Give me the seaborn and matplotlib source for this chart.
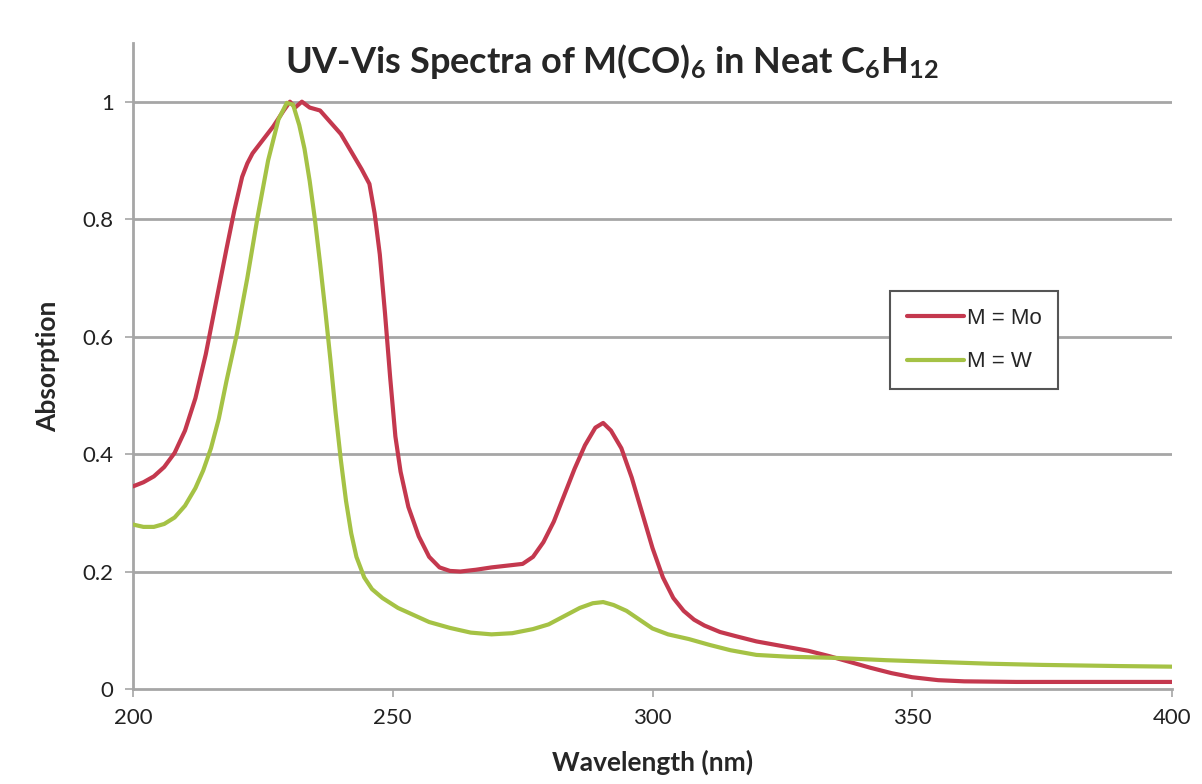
import matplotlib
matplotlib.use("Agg")
import matplotlib.pyplot as plt
import seaborn as sns
import pandas as pd

# ---- data ----
mo_wavelength = [200, 202, 204, 206, 208, 210, 212, 214, 216, 218, 219.5, 221, 222, 223, 225, 227,
                 229, 230.2, 231.2, 232.5, 234, 236, 238, 240, 242, 244, 245.5, 246.5, 247.5,
                 248.5, 249.5, 250.5, 251.5, 253, 255, 257, 259, 261, 263, 266, 269, 272, 275,
                 277, 279, 281, 283, 285, 287, 289, 290.5, 292, 294, 296, 298, 300, 302, 304,
                 306, 308, 310, 313, 316, 320, 325, 330, 334, 338, 342, 346, 350, 355, 360,
                 370, 400]
mo_absorption = [0.345, 0.352, 0.362, 0.378, 0.402, 0.44, 0.495, 0.57, 0.66, 0.75, 0.815, 0.872,
                 0.895, 0.912, 0.935, 0.958, 0.985, 1.0, 0.99, 1.0, 0.99, 0.985, 0.965, 0.945,
                 0.915, 0.885, 0.86, 0.81, 0.74, 0.64, 0.53, 0.43, 0.37, 0.31, 0.26, 0.225,
                 0.207, 0.201, 0.2, 0.203, 0.207, 0.21, 0.213, 0.225, 0.25, 0.285, 0.33, 0.375,
                 0.415, 0.445, 0.453, 0.44, 0.41, 0.36, 0.3, 0.24, 0.19, 0.155, 0.133, 0.118,
                 0.108, 0.097, 0.09, 0.081, 0.073, 0.065, 0.056, 0.046, 0.036, 0.027, 0.02,
                 0.015, 0.013, 0.012, 0.012]

w_wavelength = [200, 202, 204, 206, 208, 210, 212, 213.5, 215, 216.5, 218, 220, 222, 224, 226,
                228, 229.6, 230.8, 232, 233, 234, 235, 236, 237, 238, 239, 240, 241, 242, 243,
                244.5, 246, 248, 251, 254, 257, 261, 265, 269, 273, 277, 280, 283, 286, 288.5,
                290.5, 292.5, 295, 297.5, 300, 303, 307, 311, 315, 320, 326, 335, 345, 355, 365,
                375, 390, 400]
w_absorption = [0.28, 0.276, 0.276, 0.281, 0.292, 0.312, 0.342, 0.372, 0.41, 0.46, 0.525, 0.605,
                0.7, 0.805, 0.9, 0.97, 0.998, 0.995, 0.96, 0.92, 0.865, 0.8, 0.725, 0.645, 0.56,
                0.47, 0.39, 0.32, 0.265, 0.225, 0.19, 0.17, 0.155, 0.138, 0.126, 0.114, 0.104,
                0.096, 0.093, 0.095, 0.102, 0.11, 0.124, 0.138, 0.146, 0.148, 0.143, 0.133,
                0.118, 0.103, 0.093, 0.085, 0.075, 0.066, 0.058, 0.055, 0.053, 0.049, 0.046,
                0.043, 0.041, 0.039, 0.038]

series_labels = ["M = Mo", "M = W"]
x_ticks = [200, 250, 300, 350, 400]
y_ticks = [0, 0.2, 0.4, 0.6, 0.8, 1.0]
y_tick_labels = ["0", "0.2", "0.4", "0.6", "0.8", "1"]

df = pd.concat([
    pd.DataFrame({"Wavelength": mo_wavelength, "Absorption": mo_absorption, "Metal": series_labels[0]}),
    pd.DataFrame({"Wavelength": w_wavelength, "Absorption": w_absorption, "Metal": series_labels[1]}),
])

sns.set_theme(style="white")
plt.rcParams["font.family"] = ["Lato", "DejaVu Sans"]

fig = plt.figure(figsize=(12.02, 7.84), dpi=100)
ax = fig.add_axes([0.1107, 0.1212, 0.975 - 0.1107, 0.9452 - 0.1212])

palette = {series_labels[0]: "#C4384E", series_labels[1]: "#A5C245"}
sns.lineplot(data=df, x="Wavelength", y="Absorption", hue="Metal", palette=palette,
             linewidth=3, ax=ax, sort=False, estimator=None, zorder=3)

ax.set_xlim(200, 400)
ax.set_ylim(0, 1.1)
ax.set_xticks(x_ticks)
ax.set_xticklabels([str(t) for t in x_ticks])
ax.set_yticks(y_ticks)
ax.set_yticklabels(y_tick_labels)

grid_c = "#A6A6A6"
for yv in y_ticks[1:]:
    ax.axhline(yv, color=grid_c, lw=2, zorder=1)
for s in ["top", "right"]:
    ax.spines[s].set_visible(False)
for s in ["left", "bottom"]:
    ax.spines[s].set_color(grid_c)
    ax.spines[s].set_linewidth(2)

ax.tick_params(axis="both", which="major", direction="out", length=6, width=1.2,
               color=grid_c, labelsize=16, labelcolor="#222222", pad=8, left=True, bottom=True)

ax.set_xlabel("Wavelength (nm)", fontsize=19, fontweight="bold", labelpad=15)
ax.set_ylabel("Absorption", fontsize=19, fontweight="bold", labelpad=16)

fig.text(0.509, 0.921,
         r"UV-Vis Spectra of M(CO)$\mathregular{_6}$ in Neat C$\mathregular{_6}$H$\mathregular{_{12}}$",
         ha="center", va="center", fontsize=26, fontweight="bold")

handles, labels = ax.get_legend_handles_labels()
leg = ax.legend(handles, labels, loc="upper left",
                bbox_to_anchor=((890 - 133) / 1039, (689 - 293) / 585 / 1.1),
                frameon=True, fancybox=False, edgecolor="#555555", framealpha=1,
                prop={"family": "Liberation Sans", "size": 16},
                handlelength=2.6, handletextpad=0.1, borderpad=0.75, labelspacing=1.0,
                borderaxespad=0)
leg.get_frame().set_linewidth(1.5)
leg.set_zorder(5)

fig.savefig("out.png", dpi=100, facecolor="white")
